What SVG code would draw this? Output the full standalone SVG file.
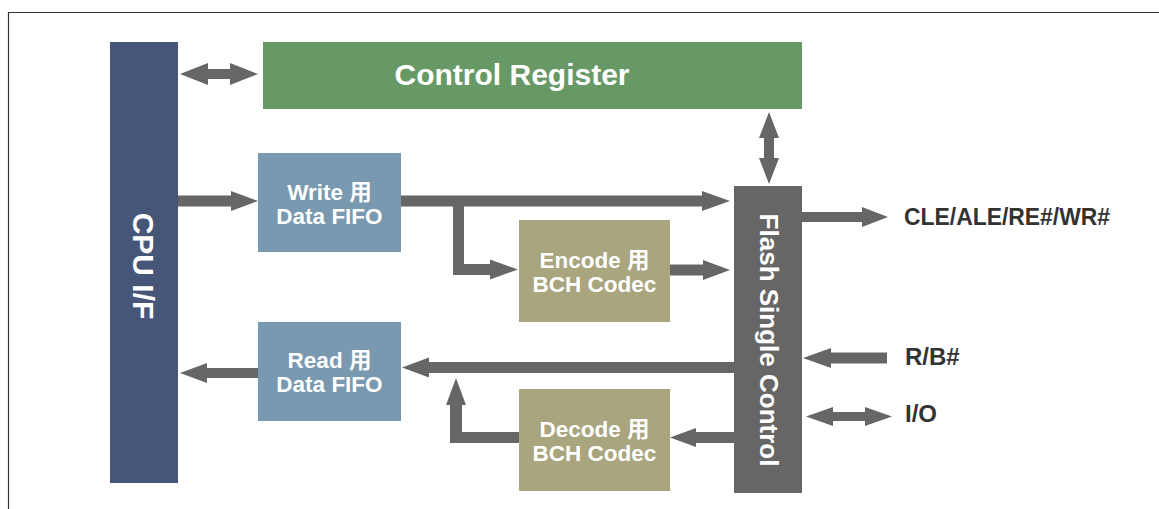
<svg xmlns="http://www.w3.org/2000/svg" width="1159" height="509" viewBox="0 0 1159 509">
<style>
.lbl{font-family:"Liberation Sans","Noto Sans CJK JP",Arial,sans-serif;font-weight:bold;fill:#ffffff;text-anchor:middle}
.box{font-size:22.5px}
.ext{font-family:"Liberation Sans",Arial,sans-serif;font-weight:bold;fill:#333333;font-size:24px}
.arr{fill:#666666}
</style>
<rect x="0" y="0" width="1159" height="509" fill="#ffffff"/>
<path d="M8.5,509 V12.5 H1159" fill="none" stroke="#333333" stroke-width="1.2"/>

<g id="cpu">
<rect x="110" y="42" width="68" height="441" fill="#465679"/>
<text class="lbl" font-size="30" transform="translate(133,266) rotate(90)">CPU I/F</text>
</g>
<g id="control-register">
<rect x="263" y="42" width="539" height="67" fill="#679966"/>
<text class="lbl" font-size="30" x="512" y="85">Control Register</text>
</g>
<g id="write-fifo">
<rect x="258" y="153" width="143" height="99" fill="#7899b0"/>
<text class="lbl box" x="329.5" y="200">Write 用</text>
<text class="lbl box" x="329.5" y="224">Data FIFO</text>
</g>
<g id="read-fifo">
<rect x="258" y="322" width="143" height="99" fill="#7899b0"/>
<text class="lbl box" x="329.5" y="368">Read 用</text>
<text class="lbl box" x="329.5" y="392">Data FIFO</text>
</g>
<g id="encode">
<rect x="519" y="220" width="151" height="102" fill="#a8a57f"/>
<text class="lbl box" x="594.5" y="268">Encode 用</text>
<text class="lbl box" x="594.5" y="292">BCH Codec</text>
</g>
<g id="decode">
<rect x="519" y="389" width="151" height="102" fill="#a8a57f"/>
<text class="lbl box" x="594.5" y="437">Decode 用</text>
<text class="lbl box" x="594.5" y="461">BCH Codec</text>
</g>
<g id="flash">
<rect x="734" y="186" width="68" height="307" fill="#666666"/>
<text class="lbl" font-size="26" transform="translate(760,340) rotate(90)">Flash Single Control</text>
</g>
<g id="signal-labels">
<text class="ext" x="904" y="225" textLength="206" lengthAdjust="spacingAndGlyphs">CLE/ALE/RE#/WR#</text>
<text class="ext" x="905" y="365">R/B#</text>
<text class="ext" x="905" y="422">I/O</text>
</g>

<g id="connectors" class="arr">
<polygon points="180,74 208,63 208,69 230,69 230,63 258,74 230,85 230,79 208,79 208,85"/>
<polygon points="178,195.5 231,195.5 231,191 258,201 231,211 231,206.5 178,206.5"/>
<polygon points="401,195.5 702,195.5 702,191 730,201 702,211 702,206.5 401,206.5"/>
<polygon points="453,200 464,200 464,264 490,264 490,259.5 518,269.5 490,279.5 490,275 453,275"/>
<polygon points="670,264.5 703,264.5 703,260 730,270 703,280 703,275.5 670,275.5"/>
<polygon points="769,112 779,138 774,138 774,158 779,158 769,184 759,158 764,158 764,138 759,138"/>
<polygon points="802,212 862,212 862,207 888,217 862,227 862,222 802,222"/>
<polygon points="734,362 429,362 429,357.5 402,367.5 429,377.5 429,373 734,373"/>
<polygon points="258,368 207,368 207,363 180,373 207,383 207,378 258,378"/>
<polygon points="734,432 696,432 696,428 670,437.5 696,447 696,443 734,443"/>
<polygon points="519,432 462,432 462,405 466,405 456,378 446,405 450,405 450,443 519,443"/>
<polygon points="887,352.5 831,352.5 831,348 803,358 831,368 831,363.5 887,363.5"/>
<polygon points="806,416.5 833,407 833,412 865,412 865,407 892,416.5 865,426 865,421 833,421 833,426"/>
</g>
</svg>
